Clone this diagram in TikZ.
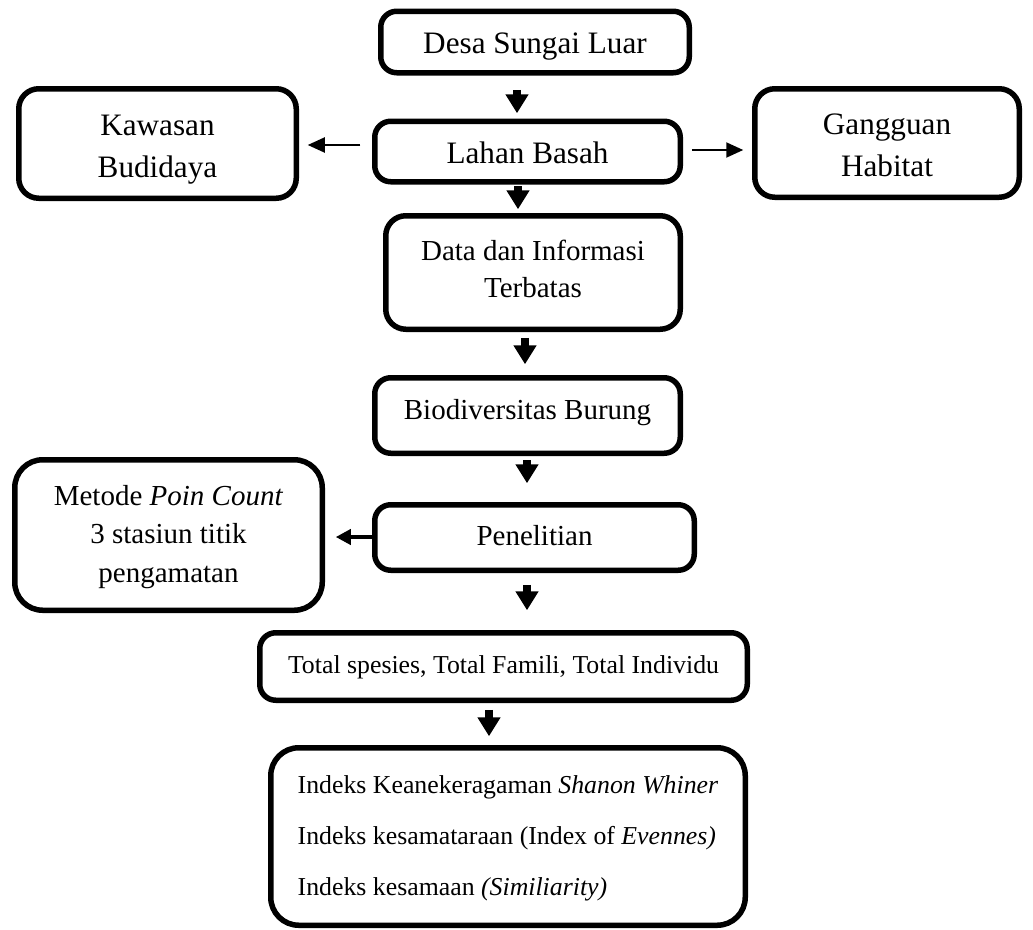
\documentclass[tikz,border=0pt]{standalone}
\usepackage{fontspec}
\setmainfont{Liberation Serif}
\usetikzlibrary{arrows.meta}
\tikzset{
  box/.style={draw, line width=5.5pt, rounded corners=16pt, inner sep=0pt, align=center},
  fa/.style={font=\fontsize{31.2}{42}\selectfont},
  fb/.style={font=\fontsize{29}{38}\selectfont},
  fc/.style={font=\fontsize{25.8}{51}\selectfont},
  bigarrow/.style={line width=7.5pt, -{Triangle[width=22pt,length=19pt]}},
  thinarrow/.style={line width=2pt, -{Triangle[width=15pt,length=17pt]}},
  midarrow/.style={line width=4pt, -{Triangle[width=15pt,length=15pt]}},
}
\begin{document}
\begin{tikzpicture}[x=1pt,y=-1pt]
\useasboundingbox (0,0) rectangle (1033,929);
\node[box, fa, text height=22pt, text depth=0pt, minimum width=308.5pt, minimum height=61.5pt] (desa) at (535,42) {Desa Sungai Luar};
\node[box, fa, text height=23pt, text depth=0pt, minimum width=305.5pt, minimum height=60.5pt] (lahan) at (527.5,151.5) {Lahan Basah};
\node[box, fa, text height=74pt, text depth=7pt, rounded corners=20pt, minimum width=277.5pt, minimum height=109.5pt] (kaw) at (157.5,143.5) {Kawasan\\Budidaya};
\node[box, fa, text height=73pt, text depth=7pt, rounded corners=20pt, minimum width=264.5pt, minimum height=108.5pt] (gang) at (887,143) {Gangguan\\Habitat};
\node[box, font=\fontsize{29}{37}\selectfont, text height=56pt, text depth=7pt, rounded corners=20pt, minimum width=294.5pt, minimum height=113.5pt] (data) at (533,272.5) {Data dan Informasi\\Terbatas};
\node[box, fb, text height=20pt, text depth=13pt, minimum width=305.5pt, minimum height=75.5pt] (bio) at (527.5,415.5) {Biodiversitas Burung};
\node[box, fb, text height=21pt, text depth=6pt, minimum width=319.5pt, minimum height=65.5pt] (pen) at (534.5,537.5) {Penelitian};
\node[box, rounded corners=28pt, font=\fontsize{29}{38.5}\selectfont, text height=101pt, text depth=7pt, minimum width=307.5pt, minimum height=150.5pt] (met) at (168.5,535) {Metode \textit{Poin Count}\\3 stasiun titik\\pengamatan};
\node[box, fc, text height=19pt, text depth=6pt, minimum width=487.5pt, minimum height=67.5pt] (tot) at (503.5,666.5) {Total spesies, Total Famili, Total Individu};
\node[box, fc, text height=124pt, text depth=7pt, rounded corners=28pt, align=left, minimum width=474.5pt, minimum height=177.5pt] (ind) at (508,836.5) {Indeks Keanekeragaman \textit{Shanon Whiner}\\Indeks kesamataraan (Index of \textit{Evennes)}\\Indeks kesamaan \textit{(Similiarity)}};
% vertical arrows
\draw[bigarrow] ([xshift=-18pt,yshift=-14.25pt]desa.south) -- ([xshift=-10.5pt,yshift=5.25pt]lahan.north);
\draw[bigarrow] ([xshift=-9.5pt,yshift=-1.5pt]lahan.south) -- ([xshift=-15pt,yshift=3.75pt]data.north);
\draw[bigarrow] ([xshift=-8pt,yshift=-5.75pt]data.south) -- ([xshift=-2.5pt,yshift=10.75pt]bio.north);
\draw[bigarrow] ([xshift=-0.5pt,yshift=-4pt]bio.south) -- ([xshift=-7.5pt,yshift=18.75pt]pen.north);
\draw[bigarrow] ([xshift=-7.5pt,yshift=-11.75pt]pen.south) -- ([xshift=23.5pt,yshift=19.75pt]tot.north);
\draw[bigarrow] ([xshift=-14.5pt,yshift=-6.75pt]tot.south) -- ([xshift=-19pt,yshift=8.75pt]ind.north);
% side arrows
\draw[thinarrow] ([xshift=-11.75pt,yshift=6.5pt]lahan.west) -- ([xshift=8.75pt,yshift=-1.5pt]kaw.east);
\draw[thinarrow] ([xshift=8.75pt,yshift=1.5pt]lahan.east) -- ([xshift=-8.75pt,yshift=-7pt]gang.west);
\draw[midarrow] ([yshift=0.5pt]pen.west) -- ([xshift=10.75pt,yshift=-2pt]met.east);
\end{tikzpicture}
\end{document}
